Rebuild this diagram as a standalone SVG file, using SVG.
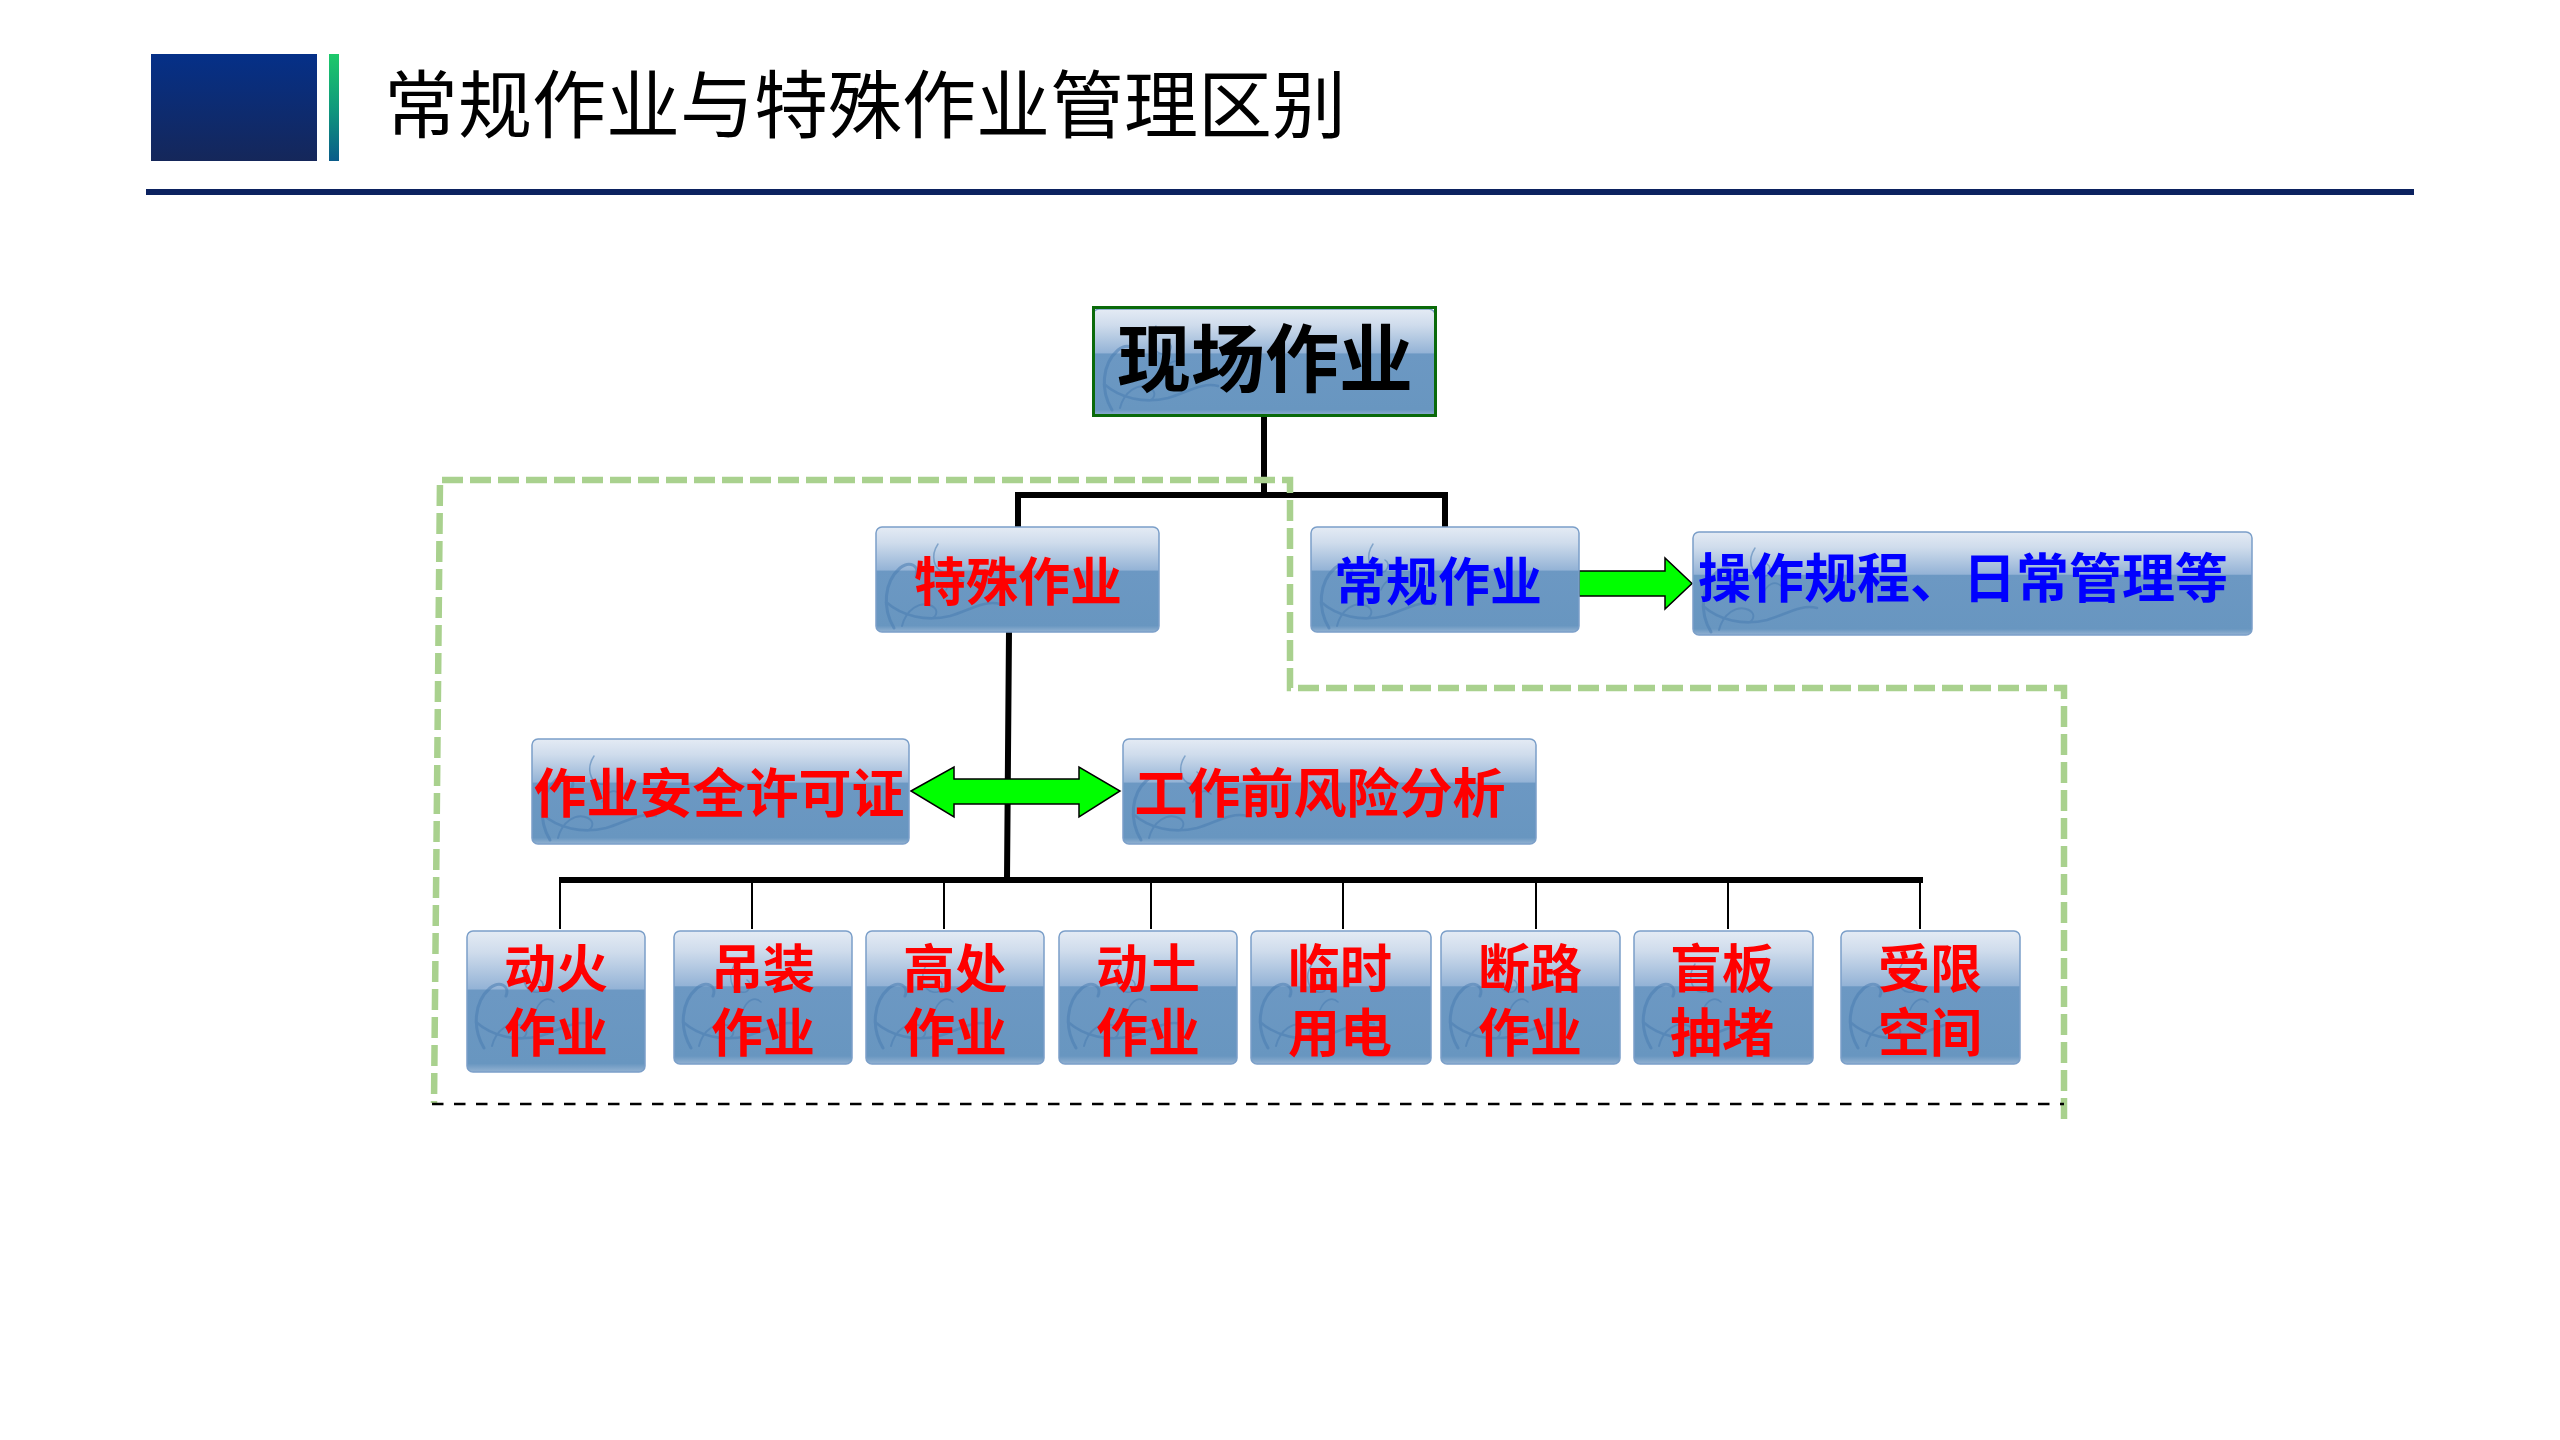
<svg xmlns="http://www.w3.org/2000/svg" width="2560" height="1440" viewBox="0 0 2560 1440">
<defs>
<linearGradient id="hdrBlue" x1="0" y1="0" x2="0" y2="1">
<stop offset="0" stop-color="#053088"/><stop offset="1" stop-color="#15275a"/>
</linearGradient>
<linearGradient id="hdrBar" x1="0" y1="0" x2="0" y2="1">
<stop offset="0" stop-color="#1dc96a"/><stop offset="0.5" stop-color="#109a7c"/><stop offset="1" stop-color="#0a5c8a"/>
</linearGradient>
<linearGradient id="gloss" x1="0" y1="0" x2="0" y2="1">
<stop offset="0" stop-color="#e4ebf4"/>
<stop offset="0.15" stop-color="#cfdcec"/>
<stop offset="0.41" stop-color="#94b3d6"/>
<stop offset="0.42" stop-color="#6c98c3"/>
<stop offset="0.94" stop-color="#6896c0"/>
<stop offset="1" stop-color="#93b2d2"/>
</linearGradient>
<g id="swirl" fill="none" stroke="#4a7db2" stroke-linecap="round" opacity="0.55">
<path d="M14 98 C2 78 4 52 20 38 C30 30 40 36 36 46" stroke-width="3"/>
<path d="M6 72 C22 86 46 92 70 86 C90 80 104 70 120 74" stroke-width="2.5"/>
<path d="M22 96 C26 80 40 70 52 76 C60 80 56 90 48 88" stroke-width="2"/>
<path d="M58 14 C50 26 54 40 64 42 C72 44 76 34 70 30" stroke-width="1.5"/>
<path d="M66 60 C70 50 78 46 84 52" stroke-width="1.5"/>
</g>
<style>
.box{fill:url(#gloss);stroke:#7b9fc9;stroke-width:1.5}
.lbl{font-family:"Noto Sans CJK SC","Noto Sans CJK TC",sans-serif;font-weight:bold;text-anchor:middle}
.red{fill:#ff0000}
.blue{fill:#0000ff}
.conn{stroke:#000;fill:none}
.thick{stroke-width:6}
.thin{stroke-width:2}
.garrow{fill:#00ff00;stroke:#000;stroke-width:1.5;stroke-linejoin:miter}
</style>
</defs>
<rect width="2560" height="1440" fill="#fff"/>

<g id="header">
<rect x="151" y="54" width="166" height="107" fill="url(#hdrBlue)"/>
<rect x="329" y="54" width="10" height="107" fill="url(#hdrBar)"/>
<text x="384" y="132" font-family="'Noto Sans CJK SC','Noto Sans CJK TC',sans-serif" font-size="74" fill="#000">常规作业与特殊作业管理区别</text>
<rect x="146" y="189" width="2268" height="6" fill="#0c2260"/>
</g>

<g id="connectors">
<path class="conn thick" d="M1264 417 V495 M1018 495 H1448 M1018 492 V528 M1445 492 V528"/>
<path class="conn thick" d="M1009 631 L1007 880 M559 880 H1923"/>
<path class="conn thin" d="M560 880 V929 M752 880 V929 M944 880 V929 M1151 880 V929 M1343 880 V929 M1536 880 V929 M1728 880 V929 M1920 880 V929"/>
<polygon class="garrow" points="1579,571 1665,571 1665,558 1692,583.5 1665,609 1665,596 1579,596"/>
<polygon class="garrow" points="911,791 954,767 954,779 1079,779 1079,767 1120,791 1079,817 1079,804 954,804 954,817"/>
</g>

<g id="node-root">
<rect x="1093" y="309" width="342" height="107" rx="6" class="box"/>
<use href="#swirl" transform="translate(1098,312)"/>
<rect x="1093.5" y="307.5" width="342" height="108" fill="none" stroke="#0a6a0a" stroke-width="3"/>
<text x="1265" y="386" class="lbl" font-size="74" fill="#000">现场作业</text>
</g>

<g id="node-special">
<rect x="876" y="527" width="283" height="105" rx="6" class="box"/>
<use href="#swirl" transform="translate(880,530)"/>
<text x="1018" y="601" class="lbl red" font-size="52">特殊作业</text>
</g>

<g id="node-regular">
<rect x="1311" y="527" width="268" height="105" rx="6" class="box"/>
<use href="#swirl" transform="translate(1315,530)"/>
<text x="1438" y="601" class="lbl blue" font-size="52">常规作业</text>
</g>

<g id="node-ops">
<rect x="1693" y="532" width="559" height="103" rx="6" class="box"/>
<use href="#swirl" transform="translate(1697,534)"/>
<text x="1963" y="598" class="lbl blue" font-size="53">操作规程、日常管理等</text>
</g>

<g id="node-permit">
<rect x="532" y="739" width="377" height="105" rx="6" class="box"/>
<use href="#swirl" transform="translate(536,742)"/>
<text x="719" y="813" class="lbl red" font-size="53">作业安全许可证</text>
</g>

<g id="node-jha">
<rect x="1123" y="739" width="413" height="105" rx="6" class="box"/>
<use href="#swirl" transform="translate(1127,742)"/>
<text x="1320" y="813" class="lbl red" font-size="53">工作前风险分析</text>
</g>

<g id="node-hotwork">
<rect x="467" y="931" width="178" height="141" rx="6" class="box"/>
<use href="#swirl" transform="translate(470,950)"/>
<text class="lbl red" font-size="52"><tspan x="556" y="988">动火</tspan><tspan x="556" y="1052">作业</tspan></text>
</g>
<g id="node-lifting">
<rect x="674" y="931" width="178" height="133" rx="6" class="box"/>
<use href="#swirl" transform="translate(677,950)"/>
<text class="lbl red" font-size="52"><tspan x="763" y="988">吊装</tspan><tspan x="763" y="1052">作业</tspan></text>
</g>
<g id="node-height">
<rect x="866" y="931" width="178" height="133" rx="6" class="box"/>
<use href="#swirl" transform="translate(869,950)"/>
<text class="lbl red" font-size="52"><tspan x="955" y="988">高处</tspan><tspan x="955" y="1052">作业</tspan></text>
</g>
<g id="node-excavation">
<rect x="1059" y="931" width="178" height="133" rx="6" class="box"/>
<use href="#swirl" transform="translate(1062,950)"/>
<text class="lbl red" font-size="52"><tspan x="1148" y="988">动土</tspan><tspan x="1148" y="1052">作业</tspan></text>
</g>
<g id="node-power">
<rect x="1251" y="931" width="180" height="133" rx="6" class="box"/>
<use href="#swirl" transform="translate(1254,950)"/>
<text class="lbl red" font-size="52"><tspan x="1340" y="988">临时</tspan><tspan x="1340" y="1052">用电</tspan></text>
</g>
<g id="node-road">
<rect x="1441" y="931" width="179" height="133" rx="6" class="box"/>
<use href="#swirl" transform="translate(1444,950)"/>
<text class="lbl red" font-size="52"><tspan x="1530" y="988">断路</tspan><tspan x="1530" y="1052">作业</tspan></text>
</g>
<g id="node-blind">
<rect x="1634" y="931" width="179" height="133" rx="6" class="box"/>
<use href="#swirl" transform="translate(1637,950)"/>
<text class="lbl red" font-size="52"><tspan x="1722" y="988">盲板</tspan><tspan x="1722" y="1052">抽堵</tspan></text>
</g>
<g id="node-confined">
<rect x="1841" y="931" width="179" height="133" rx="6" class="box"/>
<use href="#swirl" transform="translate(1844,950)"/>
<text class="lbl red" font-size="52"><tspan x="1930" y="988">受限</tspan><tspan x="1930" y="1052">空间</tspan></text>
</g>

<g id="region">
<path d="M2064 1119 V688 H1290 V480 H440 L434 1103" fill="none" stroke="#a9d18e" stroke-width="6.5" stroke-dasharray="21 7"/>
<path d="M432 1104 H2064" fill="none" stroke="#000" stroke-width="2.5" stroke-dasharray="11.5 10.5"/>
</g>
</svg>
